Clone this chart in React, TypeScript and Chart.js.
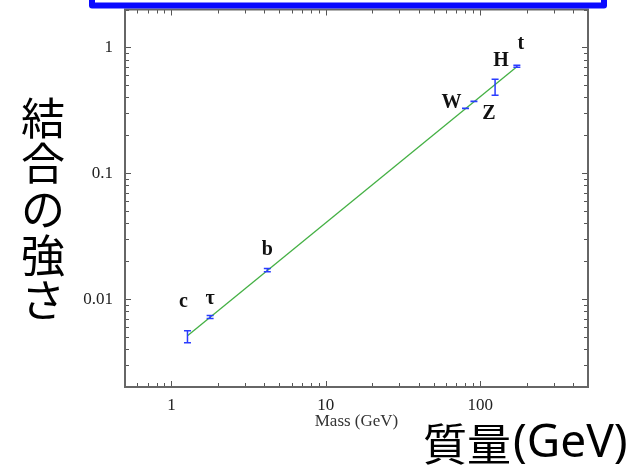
import React, { useEffect, useRef } from 'react';
import { Chart, registerables } from 'chart.js';

Chart.register(...registerables);

// ---- data ----
const particles = ['c', 'τ', 'b', 'W', 'Z', 'H', 't'];
const masses = [1.27, 1.78, 4.18, 80.4, 91.2, 125, 173];
const couplings = [0.005, 0.0072, 0.017, 0.328, 0.373, 0.48, 0.707];
const couplingLow = [0.0045, 0.007, 0.0165, 0.327, 0.372, 0.416, 0.695];
const couplingHigh = [0.0056, 0.0074, 0.0175, 0.329, 0.374, 0.557, 0.72];
const fitMasses = [1.27, 173];
const fitCouplings = [0.0051, 0.7];
const massTicks = [1, 10, 100];
const couplingTicks = [0.01, 0.1, 1];
const yTitleChars = ['結', '合', 'の', '強', 'さ'];
const xTitleJa = '質量';
const xTitleUnit = '(GeV)';
const xTitleEn = 'Mass (GeV)';

// ---- styling (label offsets in px relative to each point) ----
const labelOffsets: number[][] = [
  [-4, -35],
  [0, -18],
  [0, -20],
  [-14, -5],
  [15, 13],
  [6, -27],
  [4, -22],
];

const minorValues = (min: number, max: number) => {
  const out: { v: number; major: boolean }[] = [];
  for (let e = -4; e <= 4; e++) {
    const d = Math.pow(10, e);
    for (let k = 1; k <= 9; k++) {
      const v = k * d;
      if (v >= min * 0.9999 && v <= max * 1.0001) out.push({ v, major: k === 1 });
    }
  }
  return out;
};

const overlay = {
  id: 'overlay',
  afterDraw(chart: any) {
    const { ctx, chartArea: a } = chart;
    const x = chart.scales.x;
    const y = chart.scales.y;
    ctx.save();

    // inner tick marks on all four sides
    ctx.strokeStyle = '#555';
    ctx.lineWidth = 1;
    ctx.beginPath();
    for (const t of minorValues(x.min, x.max)) {
      const px = Math.round(x.getPixelForValue(t.v)) + 0.5;
      const len = t.major ? 6 : 4;
      ctx.moveTo(px, a.bottom);
      ctx.lineTo(px, a.bottom - len);
      ctx.moveTo(px, a.top);
      ctx.lineTo(px, a.top + len);
    }
    for (const t of minorValues(y.min, y.max)) {
      const py = Math.round(y.getPixelForValue(t.v)) + 0.5;
      const len = t.major ? 6 : 4;
      ctx.moveTo(a.left, py);
      ctx.lineTo(a.left + len, py);
      ctx.moveTo(a.right, py);
      ctx.lineTo(a.right - len, py);
    }
    ctx.stroke();

    // frame
    ctx.strokeStyle = '#666';
    ctx.lineWidth = 2;
    ctx.strokeRect(a.left, a.top, a.right - a.left, a.bottom - a.top);

    // error bars
    ctx.strokeStyle = '#2a3cff';
    ctx.lineWidth = 1.5;
    for (let i = 0; i < masses.length; i++) {
      const px = x.getPixelForValue(masses[i]);
      const lo = y.getPixelForValue(couplingLow[i]);
      const hi = y.getPixelForValue(couplingHigh[i]);
      ctx.beginPath();
      ctx.moveTo(px, lo);
      ctx.lineTo(px, hi);
      ctx.moveTo(px - 3.5, lo);
      ctx.lineTo(px + 3.5, lo);
      ctx.moveTo(px - 3.5, hi);
      ctx.lineTo(px + 3.5, hi);
      ctx.stroke();
    }

    // particle labels
    ctx.fillStyle = '#111';
    ctx.font = 'bold 20px "Liberation Serif", serif';
    ctx.textAlign = 'center';
    ctx.textBaseline = 'middle';
    for (let i = 0; i < particles.length; i++) {
      const px = x.getPixelForValue(masses[i]);
      const py = y.getPixelForValue(couplings[i]);
      ctx.fillText(particles[i], px + labelOffsets[i][0], py + labelOffsets[i][1]);
    }

    // original english axis title
    ctx.fillStyle = '#333';
    ctx.font = '17px "Liberation Serif", serif';
    ctx.textAlign = 'center';
    ctx.textBaseline = 'middle';
    ctx.fillText(xTitleEn, (a.left + a.right) / 2, 422);

    // japanese x title on white box
    ctx.fillStyle = '#fff';
    ctx.fillRect(400, 414, 236, 59);
    ctx.fillStyle = '#000';
    ctx.textAlign = 'left';
    ctx.font = '44px "Noto Sans CJK JP", sans-serif';
    ctx.fillText(xTitleJa, 423, 444);
    const w = ctx.measureText(xTitleJa).width;
    ctx.font = '46px "Noto Sans", sans-serif';
    ctx.fillText(xTitleUnit, 423 + w + 2, 444);

    // japanese y title (vertical)
    ctx.textAlign = 'center';
    ctx.font = '44px "Noto Sans CJK JP", sans-serif';
    yTitleChars.forEach((ch, i) => {
      ctx.fillText(ch, 43, 118 + i * 45.6);
    });

    // blue box at top
    ctx.strokeStyle = '#0a0aff';
    ctx.lineWidth = 6;
    ctx.lineJoin = 'round';
    ctx.strokeRect(92, -30, 512, 35.5);

    ctx.restore();
  },
};

export default function App() {
  const ref = useRef<HTMLCanvasElement>(null);
  useEffect(() => {
    if (!ref.current) return;
    const chart = new Chart(ref.current, {
      type: 'scatter',
      data: {
        datasets: [
          {
            type: 'line',
            data: fitMasses.map((m, i) => ({ x: m, y: fitCouplings[i] })),
            borderColor: '#44b044',
            borderWidth: 1.3,
            pointRadius: 0,
            fill: false,
          } as any,
          {
            data: masses.map((m, i) => ({ x: m, y: couplings[i] })),
            pointRadius: 0,
            backgroundColor: '#2a3cff',
          },
        ],
      },
      options: {
        animation: false,
        responsive: false,
        devicePixelRatio: 1,
        layout: { autoPadding: false, padding: { top: 9.5, right: 48, left: 0, bottom: 0 } },
        plugins: { legend: { display: false }, tooltip: { enabled: false } },
        scales: {
          x: {
            type: 'logarithmic',
            min: 0.5,
            max: 500,
            grid: { display: false, drawTicks: false },
            border: { display: false },
            afterBuildTicks: (s: any) => {
              s.ticks = massTicks.map((v) => ({ value: v }));
            },
            afterFit: (s: any) => {
              s.height = 86;
              s.paddingLeft = 0;
              s.paddingRight = 0;
            },
            ticks: {
              padding: 8,
              color: '#222',
              font: { family: '"Liberation Serif", serif', size: 17 },
              callback: (v: any) => String(v),
              maxRotation: 0,
              autoSkip: false,
            },
          },
          y: {
            type: 'logarithmic',
            min: 0.002,
            max: 2,
            grid: { display: false, drawTicks: false },
            border: { display: false },
            afterBuildTicks: (s: any) => {
              s.ticks = couplingTicks.map((v) => ({ value: v }));
            },
            afterFit: (s: any) => {
              s.width = 125;
              s.paddingTop = 0;
              s.paddingBottom = 0;
            },
            ticks: {
              padding: 12,
              color: '#222',
              font: { family: '"Liberation Serif", serif', size: 17 },
              callback: (v: any) => String(v),
              autoSkip: false,
            },
          },
        },
      },
      plugins: [overlay],
    });
    return () => chart.destroy();
  }, []);
  return (
    <div style={{ position: 'fixed', left: 0, top: 0, width: 636, height: 473, background: '#fff' }}>
      <canvas ref={ref} width={636} height={473} style={{ width: 636, height: 473, display: 'block' }} />
    </div>
  );
}
